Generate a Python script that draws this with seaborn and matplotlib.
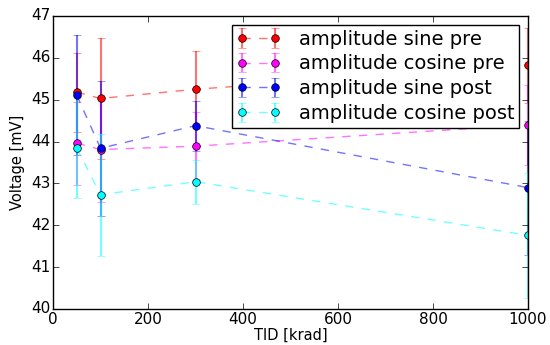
import seaborn as sns
import matplotlib.pyplot as plt
import matplotlib.colors as mcolors

plt.style.use('classic')

# TID dose points [krad]
tid = [50, 100, 300, 1000]

labels = ["amplitude sine pre", "amplitude cosine pre",
          "amplitude sine post", "amplitude cosine post"]

sine_pre = [45.18, 45.03, 45.25, 45.82]
sine_pre_err = [0.94, 1.45, 0.92, 0.90]
cosine_pre = [43.96, 43.81, 43.89, 44.40]
cosine_pre_err = [0.99, 1.25, 0.82, 0.95]
sine_post = [45.11, 43.84, 44.38, 42.90]
sine_post_err = [1.44, 1.61, 0.60, 1.60]
cosine_post = [43.85, 42.73, 43.04, 41.76]
cosine_post_err = [1.21, 1.46, 0.53, 1.50]

values = [sine_pre, cosine_pre, sine_post, cosine_post]
errors = [sine_pre_err, cosine_pre_err, sine_post_err, cosine_post_err]
palette = sns.color_palette(['red', 'magenta', 'blue', 'cyan'])

fig, ax = plt.subplots(figsize=(5.5, 3.45), dpi=100)
fig.patch.set_facecolor('white')
fig.subplots_adjust(left=53/550, right=528/550, top=1-16/345, bottom=1-309/345)

for lab, y, e, c in zip(labels, values, errors, palette):
    faded = mcolors.to_rgba(c, 0.55)
    ax.errorbar(tid, y, yerr=e, fmt='o--', color=faded, ecolor=faded,
                mfc=c, mec='k', mew=0.5, ms=5.5, lw=1.0, elinewidth=1.5,
                capsize=3, capthick=1.0, label=lab)

ax.set_xlim(0, 1000)
ax.set_ylim(40, 47)
ax.set_xlabel("TID [krad]", fontsize=10.5, labelpad=1)
ax.set_ylabel("Voltage [mV]", fontsize=10.5, labelpad=4)
ax.tick_params(labelsize=11, pad=2)
ax.legend(loc='upper right', numpoints=2, fontsize=14, borderaxespad=0.45,
          handlelength=2.3, labelspacing=0.3, borderpad=0.25, handletextpad=0.9)

plt.savefig("out.png", dpi=100, facecolor='white')
